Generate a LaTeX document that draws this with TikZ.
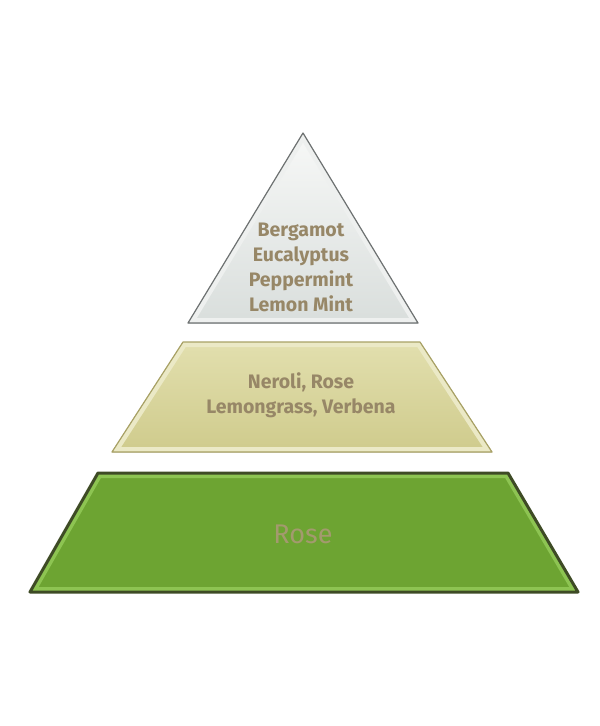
\documentclass[tikz,border=0pt]{standalone}
\usepackage{fontspec}
\setmainfont{Fira Sans}
\definecolor{notetext}{HTML}{978767}
\definecolor{topfillA}{HTML}{F7F8F7}
\definecolor{topfillB}{HTML}{D9DEDC}
\definecolor{topedge}{HTML}{6E7272}
\definecolor{midfillA}{HTML}{E2DFAE}
\definecolor{midfillB}{HTML}{CFCB8C}
\definecolor{midedge}{HTML}{A8A165}
\definecolor{basefill}{HTML}{6DA432}
\definecolor{baseedge}{HTML}{3E4B25}
\definecolor{basebevel}{HTML}{8DC452}
\definecolor{basetext}{HTML}{A39A6E}
\begin{document}
\begin{tikzpicture}[x=1pt, y=-1pt,
  every node/.style={font=\fontsize{19.5}{25}\selectfont\bfseries, align=center, text=notetext},
  bevel/.style={line width=10pt, line join=round},
  rim/.style={line width=1.2pt, line join=round}]
  \useasboundingbox (0,0) rectangle (600,726);
  % corners of the three layers
  \coordinate (t1) at (303,133);
  \coordinate (t2) at (188,323);
  \coordinate (t3) at (418,323);
  \coordinate (m1) at (183,342);
  \coordinate (m2) at (420,342);
  \coordinate (m3) at (492,452);
  \coordinate (m4) at (112,452);
  \coordinate (b1) at (98,473);
  \coordinate (b2) at (508,473);
  \coordinate (b3) at (578,592);
  \coordinate (b4) at (30,592);

  % top notes
  \fill[top color=topfillA, bottom color=topfillB] (t1) -- (t2) -- (t3) -- cycle;
  \begin{scope}
    \clip (t1) -- (t2) -- (t3) -- cycle;
    \draw[bevel, white!55!topfillB] (t1) -- (t2) -- (t3) -- cycle;
  \end{scope}
  \draw[rim, topedge] (t1) -- (t2) -- (t3) -- cycle;

  % heart notes
  \fill[top color=midfillA, bottom color=midfillB] (m1) -- (m2) -- (m3) -- (m4) -- cycle;
  \begin{scope}
    \clip (m1) -- (m2) -- (m3) -- (m4) -- cycle;
    \draw[bevel, midfillA!70!white] (m1) -- (m2) -- (m3) -- (m4) -- cycle;
  \end{scope}
  \draw[rim, midedge] (m1) -- (m2) -- (m3) -- (m4) -- cycle;

  % base notes
  \fill[basefill] (b1) -- (b2) -- (b3) -- (b4) -- cycle;
  \begin{scope}
    \clip (b1) -- (b2) -- (b3) -- (b4) -- cycle;
    \draw[bevel, basebevel] (b1) -- (b2) -- (b3) -- (b4) -- cycle;
  \end{scope}
  \draw[line width=3pt, line join=round, baseedge] (b1) -- (b2) -- (b3) -- (b4) -- cycle;

  % labels
  \node (top)   at (301,267) {Bergamot\\Eucalyptus\\Peppermint\\Lemon Mint};
  \node (heart) at (301,395) {Neroli, Rose\\Lemongrass, Verbena};
  \node[font=\fontsize{27}{30}\selectfont, text=basetext] (base) at (303,534) {Rose};
\end{tikzpicture}
\end{document}
